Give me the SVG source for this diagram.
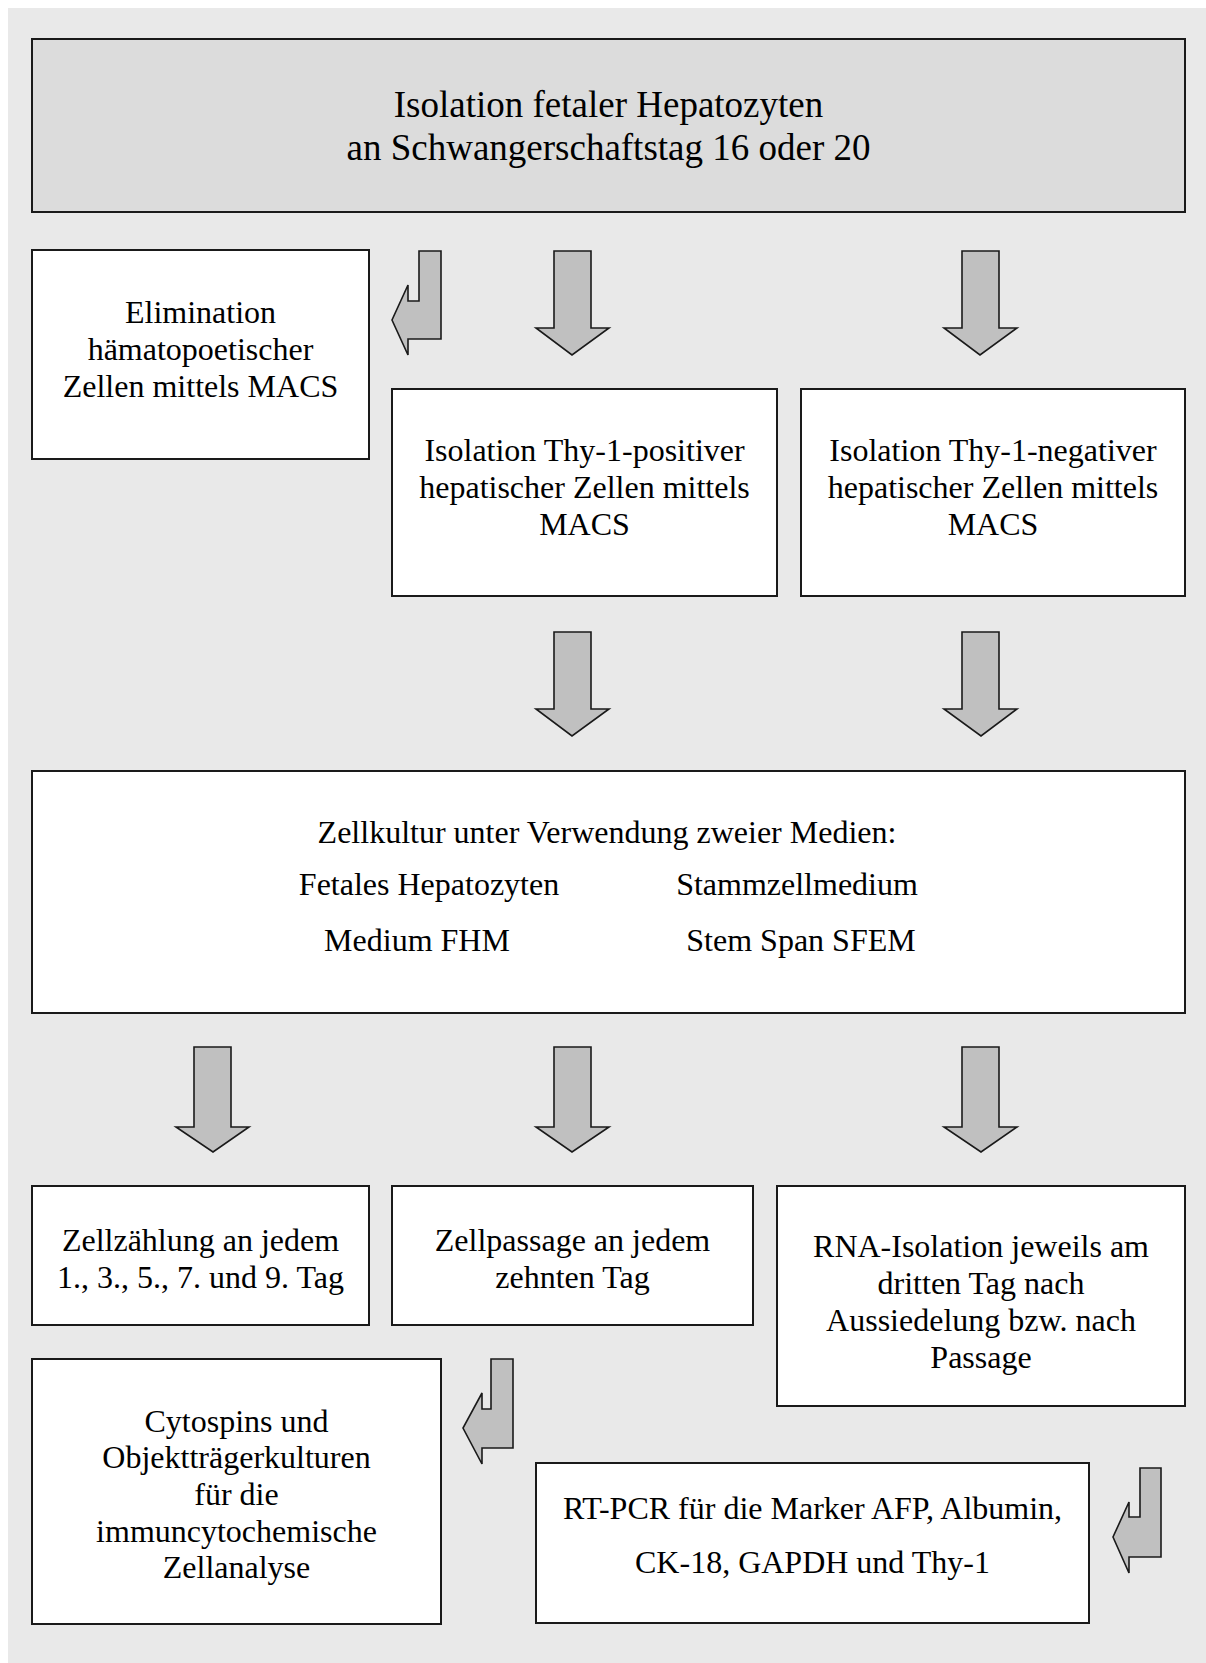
<svg xmlns="http://www.w3.org/2000/svg" width="1206" height="1663" viewBox="0 0 1206 1663">
<style>
.bg{fill:#e9e9e9}
.box{fill:#ffffff;stroke:#1a1a1a;stroke-width:2}
.head{fill:#dcdcdc;stroke:#1a1a1a;stroke-width:2}
.arr{fill:#c0c0c0;stroke:#1a1a1a;stroke-width:1.6;stroke-linejoin:miter}
text{font-family:"Liberation Serif","Times New Roman",serif;fill:#000;text-anchor:middle;font-size:32px}
.big{font-size:37px}
</style>
<rect class="bg" x="8" y="8" width="1198" height="1655"/>
<g id="n-top">
<rect class="head" x="32" y="39" width="1153" height="173"/>
<text class="big" x="608.5" y="117">Isolation fetaler Hepatozyten</text>
<text class="big" x="608.5" y="160">an Schwangerschaftstag 16 oder 20</text>
</g>
<g id="n-elim">
<rect class="box" x="32" y="250" width="337" height="209"/>
<text x="200.5" y="323">Elimination</text>
<text x="200.5" y="360">hämatopoetischer</text>
<text x="200.5" y="397">Zellen mittels MACS</text>
</g>
<g id="n-thypos">
<rect class="box" x="392" y="389" width="385" height="207"/>
<text x="584.5" y="461">Isolation Thy-1-positiver</text>
<text x="584.5" y="498">hepatischer Zellen mittels</text>
<text x="584.5" y="535">MACS</text>
</g>
<g id="n-thyneg">
<rect class="box" x="801" y="389" width="384" height="207"/>
<text x="993" y="461">Isolation Thy-1-negativer</text>
<text x="993" y="498">hepatischer Zellen mittels</text>
<text x="993" y="535">MACS</text>
</g>
<g id="n-kultur">
<rect class="box" x="32" y="771" width="1153" height="242"/>
<text x="607" y="843">Zellkultur unter Verwendung zweier Medien:</text>
<text x="429" y="895">Fetales Hepatozyten</text>
<text x="797" y="895">Stammzellmedium</text>
<text x="417" y="951">Medium FHM</text>
<text x="801" y="951">Stem Span SFEM</text>
</g>
<g id="n-zaehlung">
<rect class="box" x="32" y="1186" width="337" height="139"/>
<text x="200.5" y="1251">Zellzählung an jedem</text>
<text x="200.5" y="1288">1., 3., 5., 7. und 9. Tag</text>
</g>
<g id="n-passage">
<rect class="box" x="392" y="1186" width="361" height="139"/>
<text x="572.5" y="1251">Zellpassage an jedem</text>
<text x="572.5" y="1288">zehnten Tag</text>
</g>
<g id="n-rna">
<rect class="box" x="777" y="1186" width="408" height="220"/>
<text x="981" y="1257">RNA-Isolation jeweils am</text>
<text x="981" y="1294">dritten Tag nach</text>
<text x="981" y="1331">Aussiedelung bzw. nach</text>
<text x="981" y="1368">Passage</text>
</g>
<g id="n-cyto">
<rect class="box" x="32" y="1359" width="409" height="265"/>
<text x="236.5" y="1432">Cytospins und</text>
<text x="236.5" y="1468">Objektträgerkulturen</text>
<text x="236.5" y="1505">für die</text>
<text x="236.5" y="1542">immuncytochemische</text>
<text x="236.5" y="1578">Zellanalyse</text>
</g>
<g id="n-rtpcr">
<rect class="box" x="536" y="1463" width="553" height="160"/>
<text x="812.5" y="1519">RT-PCR für die Marker AFP, Albumin,</text>
<text x="812.5" y="1573">CK-18, GAPDH und Thy-1</text>
</g>
<g id="connectors">
<polygon class="arr" points="419,251 441,251 441,339 408,339 408,355 392,320 408,285 408,301 419,301"/>
<polygon class="arr" points="554,251 591,251 591,328 609,328 572,355 536,328 554,328"/>
<polygon class="arr" points="962,251 999,251 999,328 1017,328 980,355 944,328 962,328"/>
<polygon class="arr" points="554,632 591,632 591,709 609,709 572,736 536,709 554,709"/>
<polygon class="arr" points="962,632 999,632 999,709 1017,709 981,736 944,709 962,709"/>
<polygon class="arr" points="194,1047 231,1047 231,1127 249,1127 213,1152 176,1127 194,1127"/>
<polygon class="arr" points="554,1047 591,1047 591,1127 609,1127 572,1152 536,1127 554,1127"/>
<polygon class="arr" points="962,1047 999,1047 999,1127 1017,1127 981,1152 944,1127 962,1127"/>
<polygon class="arr" points="491,1359 513,1359 513,1448 482,1448 482,1464 463,1428 482,1393 482,1409 491,1409"/>
<polygon class="arr" points="1140,1468 1161,1468 1161,1557 1129,1557 1129,1573 1113,1537 1129,1502 1129,1517 1140,1517"/>
</g>
</svg>
